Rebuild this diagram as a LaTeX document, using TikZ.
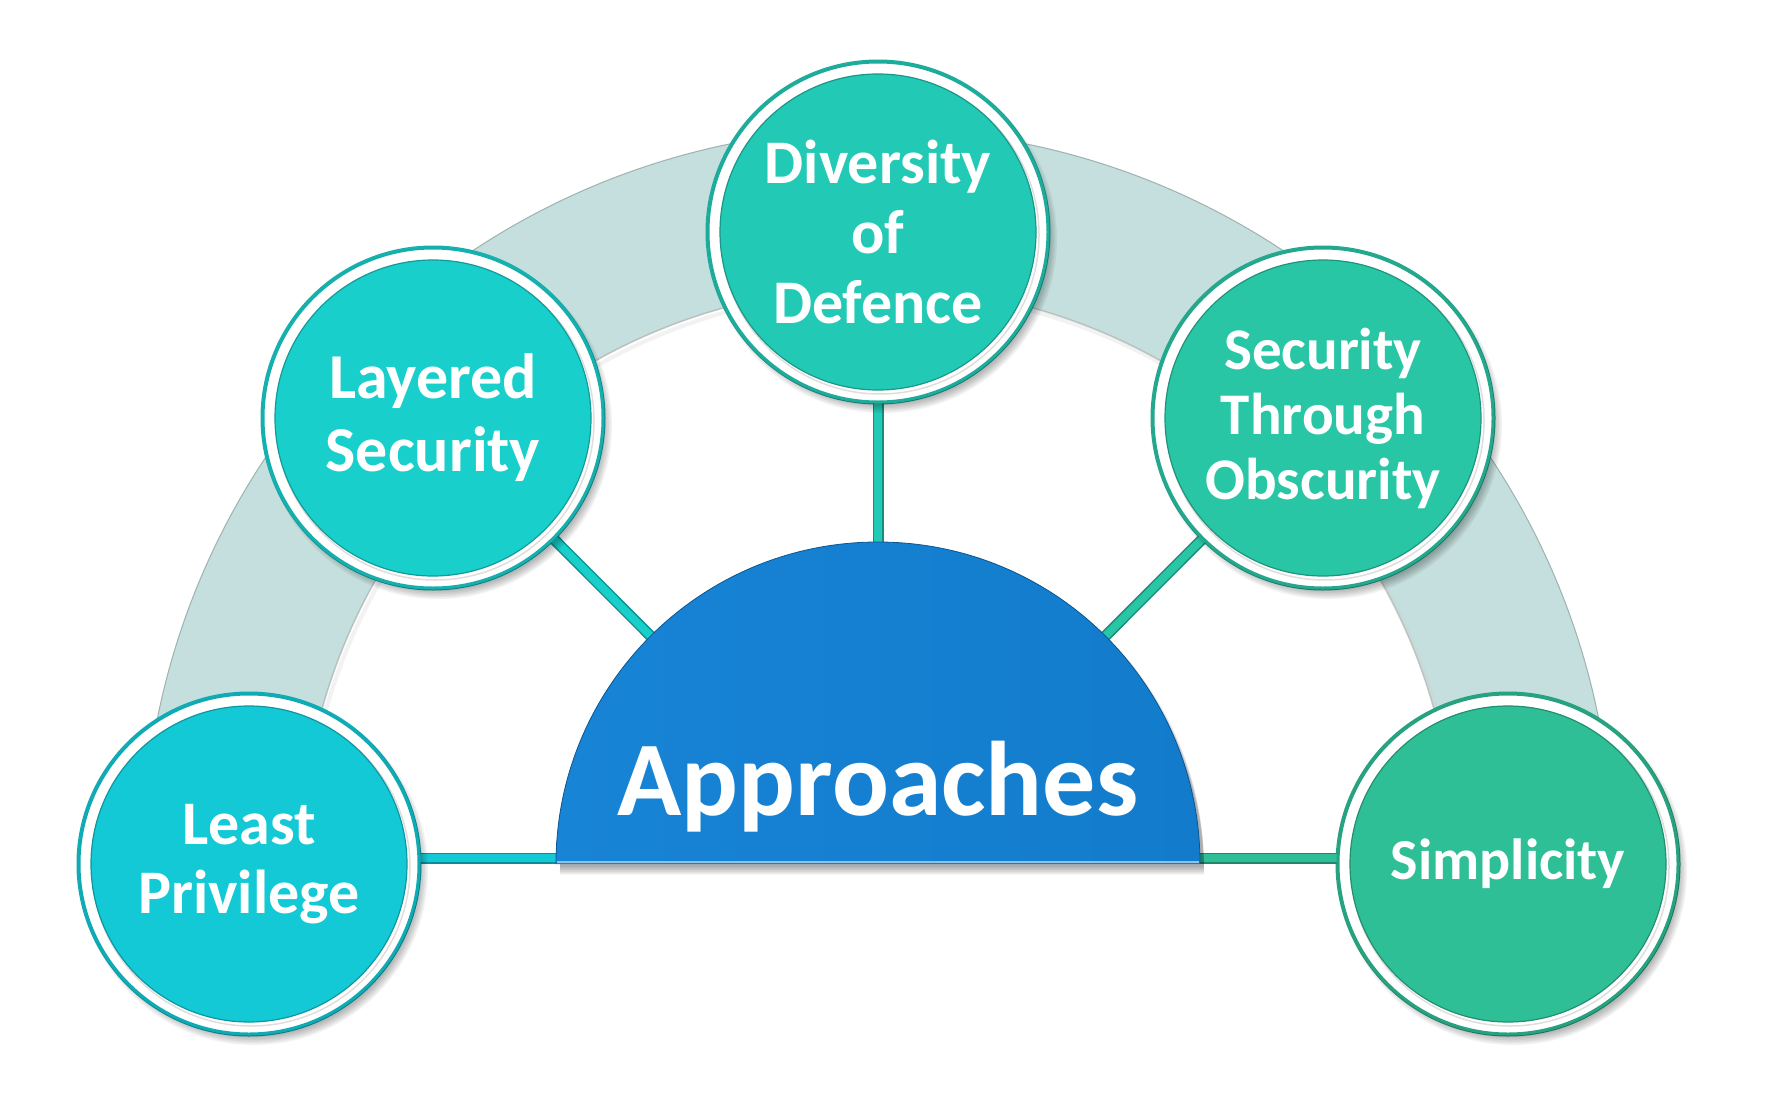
\documentclass[tikz,border=0pt]{standalone}
\usepackage{fontspec}
\setmainfont{Carlito}
\begin{document}
\begin{tikzpicture}[x=1pt,y=-1pt,
  ring/.style={circle, minimum size=342pt, inner sep=0pt, fill=white, draw=#1, line width=3pt},
  disk/.style={fill=#1, draw=#1!75!black, line width=1.2pt},
  conn/.style={line width=11pt, draw=#1!70!black, shorten >=80pt},
  conninner/.style={line width=8pt, draw=#1, shorten >=80pt},
  lbl/.style n args={2}{text=white, align=center, font=\bfseries\fontsize{#1}{#2}\selectfont},
  bandfill/.style={fill=bandc},
]
\definecolor{bandc}{HTML}{C4DFDD}
\definecolor{cLP}{HTML}{12C9D5}
\definecolor{cLS}{HTML}{19CFCB}
\definecolor{cDD}{HTML}{22CAB6}
\definecolor{cST}{HTML}{29C6A6}
\definecolor{cSI}{HTML}{2EBF96}
\definecolor{domeL}{HTML}{1884D5}
\definecolor{domeR}{HTML}{127BCC}
\useasboundingbox (0,0) rectangle (1771,1097);
\fill[white] (0,0) rectangle (1771,1097);

% central coordinate
\coordinate (c) at (878,864);

% band
\fill[bandfill] (143,864) arc[start angle=180, end angle=360, radius=735]
  -- (1455,864) arc[start angle=360, end angle=180, radius=577] -- cycle;
\draw[black!35, line width=1.5pt, opacity=0.6] (1455,864) arc[start angle=360, end angle=180, radius=577];
\draw[black!20, line width=4pt, opacity=0.25] ([shift={(3,4)}]1455,864) arc[start angle=360, end angle=180, radius=577];
\draw[bandc!80!black, line width=1pt] (143,864) arc[start angle=180, end angle=360, radius=735];

% circle placement (nodes)
\node[ring=cLP!85!black] (lp) at (249,864) {};
\node[ring=cLS!85!black] (ls) at (433,418) {};
\node[ring=cDD!85!black] (dd) at (878,232) {};
\node[ring=cST!85!black] (st) at (1323,418) {};
\node[ring=cSI!85!black] (si) at (1508,864) {};

% connectors
\draw[conn=cLP] ([yshift=6pt]lp.center) -- ([yshift=6pt]c);
\draw[conninner=cLP] ([yshift=6pt]lp.center) -- ([yshift=6pt]c);
\draw[conn=cLS] (ls.center) -- (c);
\draw[conninner=cLS] (ls.center) -- (c);
\draw[conn=cDD] (dd.center) -- (c);
\draw[conninner=cDD] (dd.center) -- (c);
\draw[conn=cST] (st.center) -- (c);
\draw[conninner=cST] (st.center) -- (c);
\draw[conn=cSI] ([yshift=6pt]si.center) -- ([yshift=6pt]c);
\draw[conninner=cSI] ([yshift=6pt]si.center) -- ([yshift=6pt]c);

% dome shadow
\foreach \i in {0,...,5}
  \fill[black, opacity=0.06] ([shift={(4,3+\i*1.5)}]556,864) arc[start angle=180, end angle=360, radius=322] -- cycle;
% dome
\shade[left color=domeL, right color=domeR] (556,864) arc[start angle=180, end angle=360, radius=322] -- cycle;
\draw[domeR!70!black, line width=0.8pt] (556,864) arc[start angle=180, end angle=360, radius=322];
\draw[domeL!50!white, line width=2pt] (557,862) -- (1199,862);
\node[lbl={106}{120}, anchor=base] (ap) at (878,815) {Approaches};

% circles: shadows, rings, disks
\foreach \n/\col in {lp/cLP, ls/cLS, dd/cDD, st/cST, si/cSI} {
  \foreach \i in {0,...,5}
    \fill[black, opacity=0.05] ([shift={(5,7)}]\n.center) circle[radius=166+\i*1.6];
  \fill[white] (\n.center) circle[radius=171];
  \draw[\col!85!black, line width=3pt] (\n.center) circle[radius=170];
  \draw[black!25, line width=1.5pt, opacity=0.5] ([shift={(2,3)}]\n.center) circle[radius=159];
  \draw[disk=\col] (\n.center) circle[radius=158];
}

% labels
\node[lbl={62}{69}] (tlp) at (lp.center) {Least\\Privilege};
\node[lbl={64}{73}] (tls) at (ls.center) {Layered\\Security};
\node[lbl={62}{70}] (tdd) at (dd.center) {Diversity\\of\\Defence};
\node[lbl={59}{65}] (tst) at (st.center) {Security\\Through\\Obscurity};
\node[lbl={58}{65}] (tsi) at (si.center) {Simplicity};
\end{tikzpicture}
\end{document}
